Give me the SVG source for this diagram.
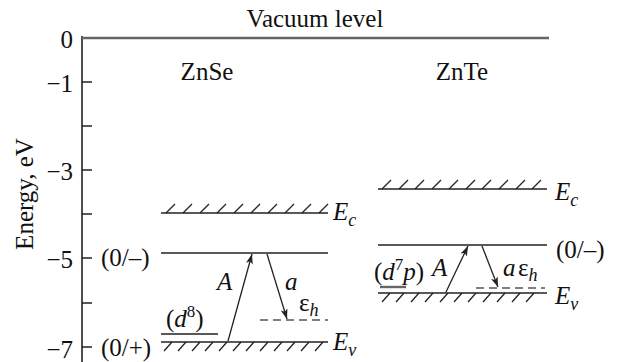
<svg xmlns="http://www.w3.org/2000/svg" width="617" height="362" viewBox="0 0 617 362" font-family="'Liberation Serif', 'DejaVu Serif', serif">
<style>
text{font-family:'Liberation Serif','DejaVu Serif',serif;fill:#111;font-size:25px}
.i{font-style:italic}
.lv{stroke:#222;stroke-width:1.6;fill:none}
.ht{stroke:#222;stroke-width:1.3;fill:none}
.ds{stroke:#555;stroke-width:1.6;stroke-dasharray:8 5;fill:none}
.ar{stroke:#222;stroke-width:1.3;fill:none;marker-end:url(#ah)}
</style>
<defs>
<marker id="ah" markerUnits="userSpaceOnUse" markerWidth="11" markerHeight="8" refX="10" refY="3.5" orient="auto">
<path d="M0,0 L10,3.5 L0,7 L2.5,3.5 z" fill="#222"/>
</marker>
</defs>
<rect width="617" height="362" fill="#fff"/>
<g id="axis">
<line x1="82" y1="36" x2="82" y2="362" stroke="#222" stroke-width="1.6"/>
<path d="M82,82 H92 M82,126 H92 M82,170 H92 M82,214 H92 M82,258 H92 M82,303 H92 M82,347 H92" stroke="#222" stroke-width="1.4"/>
<line x1="82" y1="38" x2="549" y2="38" stroke="#666" stroke-width="2.4"/>
<text x="315" y="27" text-anchor="middle" font-size="26">Vacuum level</text>
<g text-anchor="end" font-size="26">
<text x="73" y="48">0</text>
<text x="73" y="92">−1</text>
<text x="73" y="180">−3</text>
<text x="73" y="268">−5</text>
<text x="73" y="358">−7</text>
</g>
<text transform="translate(33,194) rotate(-90)" text-anchor="middle" font-size="26">Energy, eV</text>
</g>
<g id="znse">
<text x="207" y="80" text-anchor="middle" font-size="26">ZnSe</text>
<line class="lv" x1="161" y1="213" x2="328" y2="213"/>
<path class="ht" d="M166,213 l9,-9 M183,213 l9,-9 M200,213 l9,-9 M217,213 l9,-9 M234,213 l9,-9 M251,213 l9,-9 M268,213 l9,-9 M285,213 l9,-9 M302,213 l9,-9 M319,213 l9,-9"/>
<text x="333" y="220" class="i">E<tspan font-size="18" dy="6">c</tspan></text>
<line class="lv" x1="161" y1="253" x2="328" y2="253"/>
<text x="101" y="266">(0/–)</text>
<line class="ds" x1="260" y1="320" x2="328" y2="320"/>
<line class="lv" x1="161" y1="334" x2="218" y2="334"/>
<text x="166" y="327">(<tspan class="i">d</tspan><tspan font-size="17" dy="-10">8</tspan><tspan dy="10">)</tspan></text>
<line class="lv" x1="161" y1="342" x2="328" y2="342"/>
<path class="ht" d="M172,342 l-8,9 M186,342 l-8,9 M200,342 l-8,9 M213,342 l-8,9 M227,342 l-8,9 M241,342 l-8,9 M254,342 l-8,9 M268,342 l-8,9 M282,342 l-8,9 M295,342 l-8,9 M309,342 l-8,9 M323,342 l-8,9"/>
<text x="333" y="350" class="i">E<tspan font-size="18" dy="6">v</tspan></text>
<text x="101" y="356">(0/+)</text>
<text x="217" y="290" class="i">A</text>
<text x="285" y="290" class="i">a</text>
<text x="299" y="311">ε<tspan class="i" font-size="18" dy="5">h</tspan></text>
</g>
<g id="znte">
<text x="462" y="80" text-anchor="middle" font-size="26">ZnTe</text>
<line class="lv" x1="378" y1="189" x2="547" y2="189"/>
<path class="ht" d="M382,189 l9,-9 M399,189 l9,-9 M415,189 l9,-9 M432,189 l9,-9 M449,189 l9,-9 M466,189 l9,-9 M482,189 l9,-9 M499,189 l9,-9 M516,189 l9,-9 M532,189 l9,-9"/>
<text x="555" y="200" class="i">E<tspan font-size="18" dy="6">c</tspan></text>
<line class="lv" x1="378" y1="245" x2="547" y2="245"/>
<text x="556" y="258">(0/–)</text>
<line x1="380" y1="287" x2="406" y2="287" stroke="#666" stroke-width="2.4"/>
<text x="374" y="280">(<tspan class="i">d</tspan><tspan font-size="17" dy="-10">7</tspan><tspan class="i" dy="10">p</tspan>)</text>
<line class="ds" x1="476" y1="288" x2="545" y2="288"/>
<line class="lv" x1="378" y1="293" x2="547" y2="293"/>
<path class="ht" d="M390,293 l-8,9 M404,293 l-8,9 M419,293 l-8,9 M433,293 l-8,9 M448,293 l-8,9 M462,293 l-8,9 M476,293 l-8,9 M491,293 l-8,9 M505,293 l-8,9 M520,293 l-8,9 M534,293 l-8,9"/>
<text x="555" y="304" class="i">E<tspan font-size="18" dy="6">v</tspan></text>
<text x="432" y="276" class="i">A</text>
<text x="503" y="276" class="i">a</text>
<text x="518" y="276">ε<tspan class="i" font-size="18" dy="5">h</tspan></text>
</g>
<g id="connectors">
<line class="ar" x1="228" y1="341" x2="252" y2="254"/>
<line class="ar" x1="267" y1="254" x2="287" y2="319"/>
<line class="ar" x1="446" y1="292" x2="468" y2="246"/>
<line class="ar" x1="482" y1="246" x2="498" y2="287"/>
</g>
</svg>
